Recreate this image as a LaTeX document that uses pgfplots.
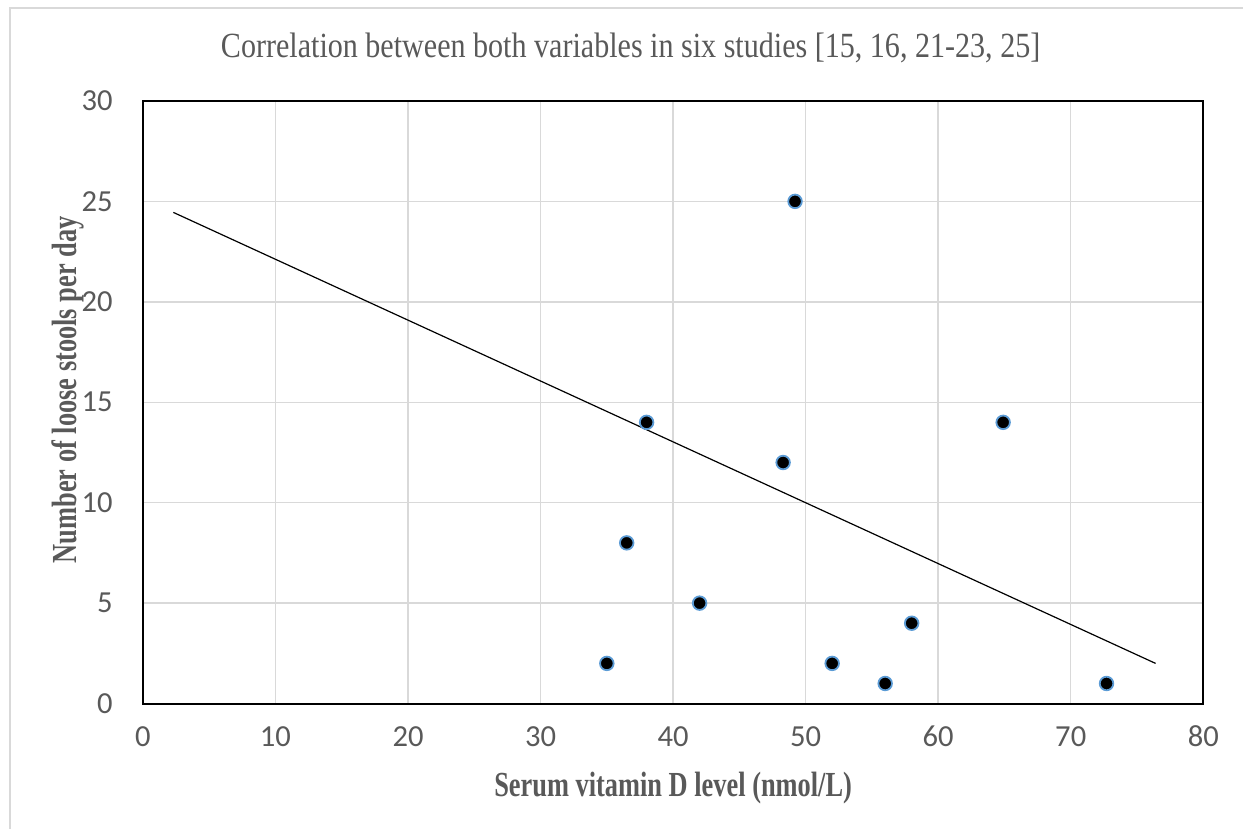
\documentclass[border=0pt]{standalone}
\usepackage{pgfplots}
\pgfplotsset{compat=1.18}
\usepackage{fontspec}
\setmainfont{Liberation Serif}
\newfontfamily\calibri{Carlito}
\newfontfamily\condserif[FakeStretch=0.75]{Liberation Serif}
\newfontfamily\titleserif[FakeStretch=0.85]{Liberation Serif}
\definecolor{txtgray}{HTML}{595959}
\definecolor{gridgray}{HTML}{D9D9D9}
\definecolor{edgeblue}{HTML}{5B9BD5}

\begin{document}
\begin{tikzpicture}
\begin{axis}[
    width=530.5pt, height=301.5pt,
    scale only axis,
    xmin=0, xmax=80,
    ymin=0, ymax=30,
    xtick={0,10,...,80},
    ytick={0,5,...,30},
    grid=major,
    grid style={gridgray, line width=0.75pt},
    axis line style={black, line width=1pt},
    major tick length=0pt,
    /pgf/number format/assume math mode=true,
    ticklabel style={font=\calibri\fontsize{15.3}{18}\selectfont, text=txtgray},
    xticklabel style={anchor=base, yshift=-21.5pt},
    yticklabel style={anchor=east, inner sep=0pt, xshift=-15pt},
    clip=false,
]
% trend line
\addplot[black, line width=0.6pt, no marks] coordinates {
    (2.3,24.45) (76.4,2.0)
};
% studies
\addplot[only marks, mark=*, mark size=3.4pt,
    mark options={fill=black, draw=edgeblue, line width=0.9pt}]
    coordinates {
    (35,2) (36.5,8) (38,14) (42,5) (48.3,12) (49.2,25)
    (52,2) (56,1) (58,4) (64.9,14) (72.7,1)
};
\end{axis}
% title and axis titles
\node[anchor=base, text=txtgray, font=\titleserif\fontsize{17.7}{22}\selectfont]
    at ([xshift=244pt,yshift=21.5pt]current axis.north west) {Correlation between both variables in six studies [15, 16, 21-23, 25]};
\node[anchor=base, text=txtgray, font=\condserif\bfseries\fontsize{17.6}{21}\selectfont]
    at ([yshift=-46.5pt]current axis.south) {Serum vitamin D level (nmol/L)};
\node[anchor=base, rotate=90, text=txtgray, font=\condserif\bfseries\fontsize{17.6}{21}\selectfont]
    at ([xshift=-33pt,yshift=6.25pt]current axis.west) {Number of loose stools per day};
% outer frame and page size
\path (current axis.south west) ++(-71.5pt,-62.5pt) coordinate (pgsw);
\path (current axis.north east) ++(20pt,50.5pt) coordinate (pgne);
\path (pgsw) rectangle (pgne);
\draw[gridgray, line width=0.75pt] ([xshift=5pt]pgsw) |- ([yshift=-4pt]pgne);
\end{tikzpicture}
\end{document}
